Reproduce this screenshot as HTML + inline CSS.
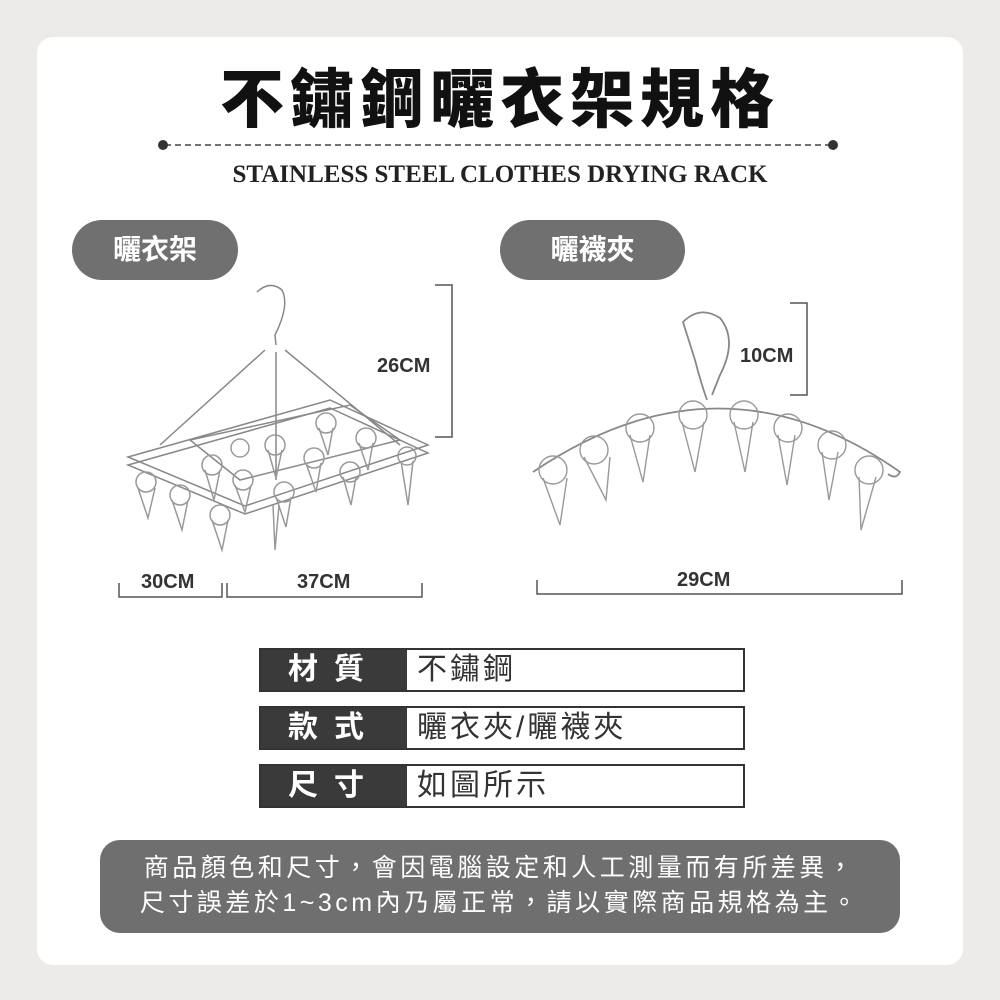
<!DOCTYPE html>
<html><head><meta charset="utf-8"><style>
body{margin:0;width:1000px;height:1000px;background:#ecebea;position:relative;overflow:hidden;font-family:"Liberation Sans","Noto Sans CJK TC",sans-serif}
.card{position:absolute;left:37px;top:37px;width:926px;height:928px;background:#fff;border-radius:16px}
.abs{position:absolute}
.title{left:0;width:1000px;top:60px;text-align:center;font-size:64px;font-weight:900;color:#111;letter-spacing:6px;line-height:80px}
.sub{left:0;width:1000px;top:160px;text-align:center;font-family:"Liberation Serif",serif;font-weight:bold;font-size:25px;color:#222;line-height:30px}
.pill{background:#707070;color:#fff;font-weight:bold;font-size:28px;line-height:60px;text-align:center;border-radius:30px;height:60px}
.dim{font-weight:bold;font-size:20px;color:#333}
.row{position:absolute;left:259px;width:486px;height:44px;border:2px solid #333;box-sizing:border-box;background:#fff}
.row .k{position:absolute;left:0;top:0;width:146px;height:40px;background:#3a3a3a;color:#fff;font-size:30px;line-height:40px;text-align:center;letter-spacing:16px;font-weight:bold}
.row .v{position:absolute;left:156px;top:0;font-size:30px;line-height:40px;color:#333;letter-spacing:3px}
.note{left:100px;top:840px;width:800px;height:93px;background:#6f6f6f;border-radius:20px;color:#fff;font-size:25px;text-align:center;line-height:35px;padding-top:11px;box-sizing:border-box;letter-spacing:3.5px;white-space:nowrap}
</style></head><body>
<div class="card"></div>
<div class="abs title">不鏽鋼曬衣架規格</div>
<svg class="abs" style="left:0;top:0" width="1000" height="1000">
<line x1="165" y1="145" x2="832" y2="145" stroke="#444" stroke-width="1.5" stroke-dasharray="6,4"/>
<circle cx="163" cy="145" r="5" fill="#333"/><circle cx="833" cy="145" r="5" fill="#333"/>
<polyline points="435,285 452,285 452,437 435,437" fill="none" stroke="#555" stroke-width="1.5"/>
<polyline points="790,303 807,303 807,395 790,395" fill="none" stroke="#555" stroke-width="1.5"/>
<polyline points="119,583 119,597 222,597 222,583" fill="none" stroke="#555" stroke-width="1.5"/>
<polyline points="227,583 227,597 422,597 422,583" fill="none" stroke="#555" stroke-width="1.5"/>
<polyline points="537,580 537,594 902,594 902,580" fill="none" stroke="#555" stroke-width="1.5"/>
<g fill="none" stroke="#888" stroke-width="1.5">
<path d="M257,292 Q270,280 282,290 Q290,305 275,335 L276,345"/>
<path d="M265,350 L160,445 M285,350 L400,445 M276,352 L276,480"/>
<polygon points="128,457 330,400 428,445 245,506"/>
<polygon points="128,465 330,408 428,453 245,514"/>
<polygon points="190,440 350,405 400,440 240,480"/>
<g stroke="#999">
<circle cx="146" cy="482" r="10"/><path d="M138,488 L148,518 L155,488"/>
<circle cx="180" cy="495" r="10"/><path d="M172,500 L182,530 L188,500"/>
<circle cx="220" cy="515" r="10"/><path d="M212,520 L222,550 L228,520"/>
<circle cx="243" cy="480" r="10"/><path d="M235,485 L245,512 L251,485"/>
<circle cx="212" cy="465" r="10"/><path d="M205,470 L214,500 L220,470"/>
<circle cx="275" cy="445" r="10"/><path d="M268,450 L276,478 L282,450"/>
<circle cx="284" cy="492" r="10"/><path d="M276,497 L286,527 L291,497"/>
<circle cx="314" cy="458" r="10"/><path d="M306,463 L316,492 L321,463"/>
<circle cx="326" cy="423" r="10"/><path d="M319,428 L328,455 L333,428"/>
<circle cx="366" cy="438" r="10"/><path d="M359,443 L368,470 L373,443"/>
<circle cx="350" cy="472" r="10"/><path d="M343,477 L351,505 L356,477"/>
<circle cx="407" cy="456" r="9"/><path d="M401,461 L408,505 L413,461"/>
<circle cx="240" cy="448" r="9"/><path d="M273,505 L275,550 L279,505"/>
</g></g>
<g fill="none" stroke="#888" stroke-width="1.8">
<path d="M533,472 Q720,345 900,472 Q896,480 888,474"/>
<path d="M707,400 Q700,380 695,360 L683,322 Q700,305 720,318 Q738,340 720,375 L712,395"/>
<g stroke="#999" stroke-width="1.4">
<circle cx="553" cy="470" r="14"/><path d="M543,478 L560,525 L567,478"/>
<circle cx="594" cy="450" r="14"/><path d="M584,457 L606,500 L610,457"/>
<circle cx="640" cy="428" r="14"/><path d="M630,435 L643,482 L650,435"/>
<circle cx="693" cy="415" r="14"/><path d="M682,422 L695,472 L704,422"/>
<circle cx="744" cy="415" r="14"/><path d="M734,422 L745,472 L753,422"/>
<circle cx="788" cy="428" r="14"/><path d="M778,435 L787,485 L795,435"/>
<circle cx="832" cy="445" r="14"/><path d="M822,452 L829,500 L838,452"/>
<circle cx="869" cy="470" r="14"/><path d="M859,477 L861,530 L876,477"/>
</g></g>
</svg>
<div class="abs sub">STAINLESS STEEL CLOTHES DRYING RACK</div>
<div class="abs pill" style="left:72px;top:220px;width:166px">曬衣架</div>
<div class="abs pill" style="left:500px;top:220px;width:185px">曬襪夾</div>
<div class="abs dim" style="left:377px;top:355px">26CM</div>
<div class="abs dim" style="left:740px;top:345px">10CM</div>
<div class="abs dim" style="left:141px;top:571px">30CM</div>
<div class="abs dim" style="left:297px;top:571px">37CM</div>
<div class="abs dim" style="left:677px;top:569px">29CM</div>
<div class="row" style="top:648px"><div class="k">材質</div><div class="v">不鏽鋼</div></div>
<div class="row" style="top:706px"><div class="k">款式</div><div class="v">曬衣夾/曬襪夾</div></div>
<div class="row" style="top:764px"><div class="k">尺寸</div><div class="v">如圖所示</div></div>
<div class="abs note">商品顏色和尺寸，會因電腦設定和人工測量而有所差異，<br>尺寸誤差於1~3cm內乃屬正常，請以實際商品規格為主。</div>
</body></html>
